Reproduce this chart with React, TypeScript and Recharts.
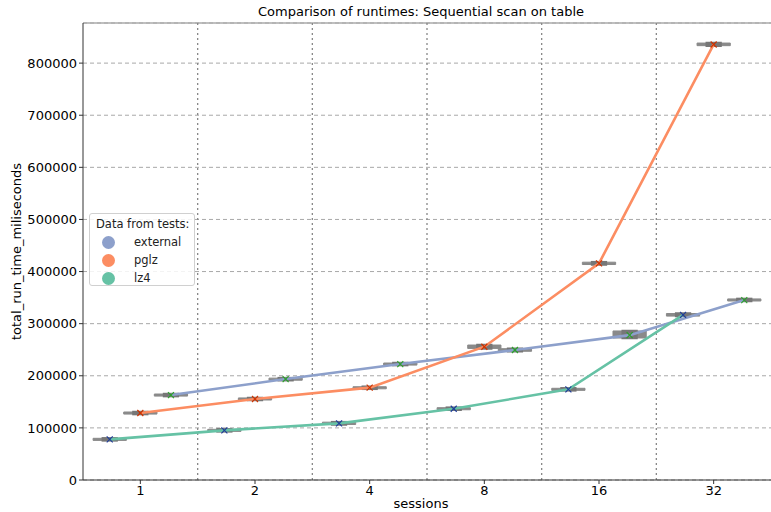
import React from 'react';
import {
  ComposedChart, Line, Scatter, XAxis, YAxis, CartesianGrid, ReferenceLine, ReferenceArea,
} from 'recharts';

// x categories (sessions) and tick values on y
const sessions = ['1', '2', '4', '8', '16', '32'];
const yTicks = [0, 100000, 200000, 300000, 400000, 500000, 600000, 700000, 800000];

// medians, one per session
const externalMed = [163000, 193700, 222500, 249400, 278000, 345300];
const pglzMed = [128500, 155400, 177200, 255800, 415700, 835800];
const lz4Med = [78000, 95300, 108700, 136800, 174000, 317000];

// box extents
const externalLow = [161000, 191500, 220500, 247000, 272500, 343500];
const externalHigh = [165000, 195500, 224500, 252000, 286000, 347500];
const pglzLow = [126500, 153500, 175000, 252500, 413500, 833500];
const pglzHigh = [130500, 157500, 179000, 259000, 418000, 838500];
const lz4Low = [76000, 93300, 106500, 134800, 172000, 314500];
const lz4High = [80000, 97300, 111000, 138800, 176000, 319500];

const series = [
  { name: 'external', color: '#8da0cb', mark: '#2ca02c', offset: 0.267, med: externalMed, low: externalLow, high: externalHigh },
  { name: 'pglz', color: '#fc8d62', mark: '#cc3300', offset: 0, med: pglzMed, low: pglzLow, high: pglzHigh },
  { name: 'lz4', color: '#66c2a5', mark: '#1f3d99', offset: -0.267, med: lz4Med, low: lz4Low, high: lz4High },
];

const FONT = '"DejaVu Sans", sans-serif';

const Marker = (props: any) => {
  const { cx, cy, fill } = props;
  if (cx == null || cy == null) return null;
  return (
    <g stroke={fill} strokeWidth={1.2}>
      <line x1={cx - 3} y1={cy - 3} x2={cx + 3} y2={cy + 3} />
      <line x1={cx - 3} y1={cy + 3} x2={cx + 3} y2={cy - 3} />
    </g>
  );
};

const App: React.FC = () => {
  const lines = series.map(s => ({
    ...s,
    data: s.med.map((v, i) => ({ x: i + s.offset, y: v })),
  }));

  return (
    <div style={{ position: 'absolute', left: 0, top: 0, width: 771, height: 512, background: '#fff', fontFamily: FONT }}>
      <div style={{ position: 'absolute', left: 83, width: 676, top: 4, textAlign: 'center', fontSize: 13, color: '#000' }}>
        Comparison of runtimes: Sequential scan on table
      </div>
      <div style={{ position: 'absolute', left: 83, width: 676, top: 496, textAlign: 'center', fontSize: 13, color: '#000' }}>
        sessions
      </div>
      <ComposedChart width={771} height={512} margin={{ top: 23, right: 0, bottom: 0, left: 0 }}>
        <CartesianGrid vertical={false} stroke="#a8a8a8" strokeDasharray="4 3" />
        <XAxis
          dataKey="x"
          type="number"
          domain={[-0.5, 5.5]}
          ticks={[0, 1, 2, 3, 4, 5]}
          tickFormatter={(v: number) => sessions[v]}
          allowDataOverflow
          height={32}
          stroke="#333"
          tick={{ fill: '#000', fontSize: 13, fontFamily: FONT }}
          tickSize={4}
        />
        <YAxis
          type="number"
          domain={[0, 877000]}
          ticks={yTicks}
          width={83}
          stroke="#333"
          tick={{ fill: '#000', fontSize: 13, fontFamily: FONT }}
          tickSize={4}
          tickFormatter={(v: number) => String(v)}
          label={{ value: 'total_run_time_miliseconds', angle: -90, position: 'insideLeft', offset: 16, fill: '#000', fontSize: 13, fontFamily: FONT, style: { textAnchor: 'middle' } }}
        />
        <ReferenceLine y={877000} stroke="#aaa" strokeWidth={1.5} />
        {[0.5, 1.5, 2.5, 3.5, 4.5].map(x => (
          <ReferenceLine key={x} x={x} stroke="#888" strokeDasharray="2 3" strokeWidth={1.3} />
        ))}
        {series.flatMap(s => s.med.map((_, i) => (
          <ReferenceArea
            key={`w-${s.name}-${i}`}
            x1={i + s.offset - 0.145}
            x2={i + s.offset + 0.145}
            y1={s.low[i]}
            y2={s.high[i]}
            fill="#8a8a8a"
            fillOpacity={1}
            stroke="#8a8a8a"
            strokeWidth={1}
          />
        )))}
        {series.flatMap(s => s.med.map((_, i) => (
          <ReferenceArea
            key={`b-${s.name}-${i}`}
            x1={i + s.offset - 0.06}
            x2={i + s.offset + 0.06}
            y1={s.low[i]}
            y2={s.high[i]}
            fill="#777"
            fillOpacity={1}
            stroke="#777"
            strokeWidth={2.5}
          />
        )))}
        {lines.map(s => (
          <Line
            key={s.name}
            data={s.data}
            dataKey="y"
            name={s.name}
            stroke={s.color}
            strokeWidth={2.6}
            dot={false}
            isAnimationActive={false}
          />
        ))}
        {lines.map(s => (
          <Scatter
            key={`m-${s.name}`}
            data={s.data}
            dataKey="y"
            fill={s.mark}
            shape={<Marker />}
            isAnimationActive={false}
          />
        ))}
      </ComposedChart>
      <div style={{
        position: 'absolute', left: 89, top: 213, width: 106, height: 73, boxSizing: 'border-box',
        border: '1px solid #d0d0d0', borderRadius: 3, background: 'rgba(255,255,255,0.85)', fontSize: 11.5, color: '#222',
      }}>
        <div style={{ position: 'absolute', left: 6, top: 3 }}>Data from tests:</div>
        {series.map((s, i) => (
          <div key={s.name} style={{ position: 'absolute', left: 12, top: 21 + i * 18, display: 'flex', alignItems: 'center' }}>
            <span style={{ width: 13, height: 13, borderRadius: 7, background: s.color, display: 'inline-block' }} />
            <span style={{ marginLeft: 19 }}>{s.name}</span>
          </div>
        ))}
      </div>
    </div>
  );
};

export default App;
